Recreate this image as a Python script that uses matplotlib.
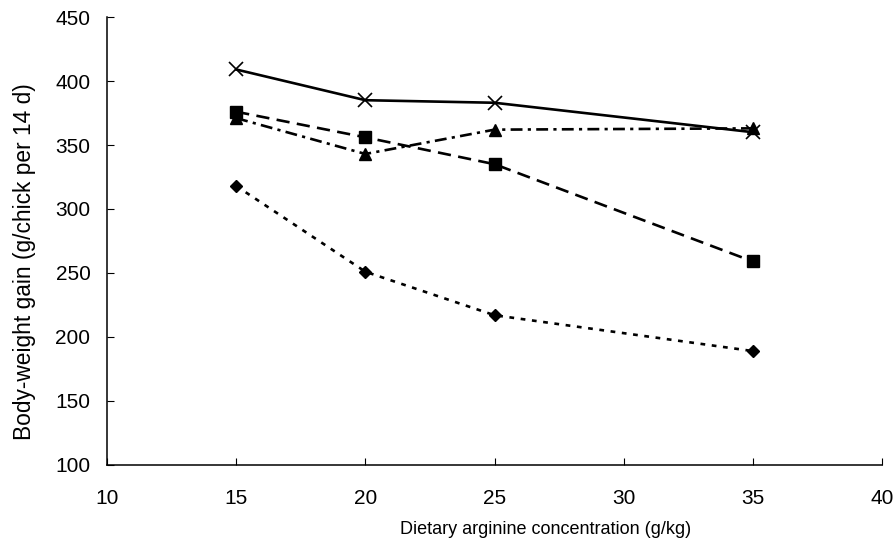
import matplotlib.pyplot as plt

# arginine levels (g/kg) and body-weight gain for each diet series
arginine = [15, 20, 25, 35]
gain_cross = [409, 385, 383, 360]
gain_square = [376, 356, 335, 259]
gain_triangle = [371, 343, 362, 363]
gain_diamond = [318, 251, 217, 189]

x_ticks = [10, 15, 20, 25, 30, 35, 40]
y_ticks = [100, 150, 200, 250, 300, 350, 400, 450]

plt.rcParams["font.family"] = ["Liberation Sans", "DejaVu Sans"]

fig = plt.figure(figsize=(8.95, 5.45), dpi=100)
ax = fig.add_axes([0.1196, 0.1468, 0.8659, 0.822])

lw = 1.9
ax.plot(arginine, gain_cross, color="black", lw=lw, linestyle="-",
        marker="x", markersize=10, markeredgewidth=1.2)
ax.plot(arginine, gain_square, color="black", lw=lw, linestyle=(0, (5, 2.8)),
        marker="s", markersize=8)
ax.plot(arginine, gain_triangle, color="black", lw=lw,
        linestyle=(0, (4.5, 2, 1.2, 2)), marker="^", markersize=8)
ax.plot(arginine, gain_diamond, color="black", lw=lw, linestyle=(0, (1.8, 2.5)),
        marker="D", markersize=6.5)

ax.set_xlim(10, 40)
ax.set_ylim(100, 450)
ax.set_xticks(x_ticks)
ax.set_yticks(y_ticks)
ax.tick_params(direction="in", length=5, width=0.8)
ax.tick_params(axis="y", labelsize=15, pad=12)
ax.tick_params(axis="x", labelsize=15, pad=17)

for side in ["top", "right"]:
    ax.spines[side].set_visible(False)
for side in ["left", "bottom"]:
    ax.spines[side].set_linewidth(1.1)

ax.set_xlabel("Dietary arginine concentration (g/kg)", fontsize=13)
ax.xaxis.set_label_coords(0.566, -0.125)
ax.set_ylabel("Body-weight gain (g/chick per 14 d)", fontsize=16.4)
ax.yaxis.set_label_coords(-0.092, 0.453)

fig.savefig("out.png", dpi=100)
